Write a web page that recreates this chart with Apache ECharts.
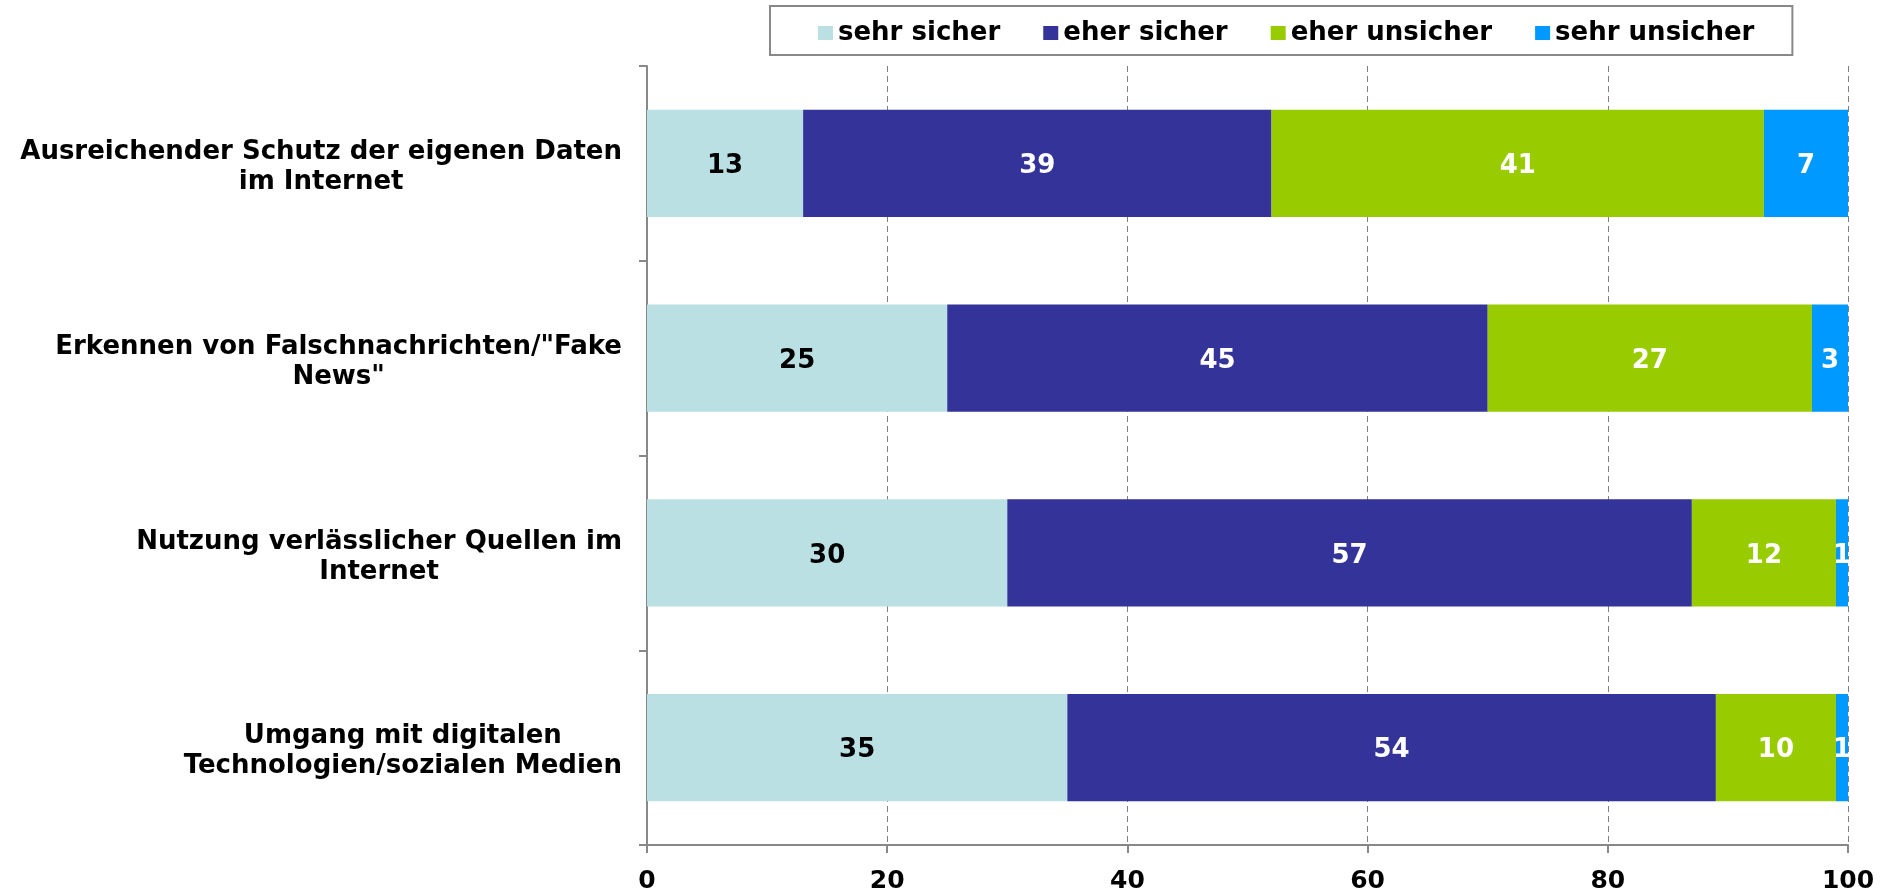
<!DOCTYPE html>
<html>
<head>
<meta charset="utf-8">
<script src="https://cdn.jsdelivr.net/npm/echarts@6/dist/echarts.min.js"></script>
<style>
  html, body { margin: 0; padding: 0; background: #fff; }
  #chart { width: 1887px; height: 894px; }
</style>
</head>
<body>
<div id="chart"></div>
<script>
// Kategorien (von oben nach unten)
const categories = [
  "Ausreichender Schutz der eigenen Daten\nim Internet",
  "Erkennen von Falschnachrichten/\"Fake\nNews\"",
  "Nutzung verlässlicher Quellen im\nInternet",
  "Umgang mit digitalen\nTechnologien/sozialen Medien"
];
const seriesNames = ["sehr sicher", "eher sicher", "eher unsicher", "sehr unsicher"];
const sehrSicher = [13, 25, 30, 35];
const eherSicher = [39, 45, 57, 54];
const eherUnsicher = [41, 27, 12, 10];
const sehrUnsicher = [7, 3, 1, 1];
const xTicks = [0, 20, 40, 60, 80, 100];

const colors = ["#BAE0E3", "#333399", "#99CC00", "#0099FF"];
const labelColors = ["#000", "#fff", "#fff", "#fff"];
const values = [sehrSicher, eherSicher, eherUnsicher, sehrUnsicher];

const font = "DejaVu Sans";
const chart = echarts.init(document.getElementById("chart"));

const option = {
  animation: false,
  color: colors,
  grid: { left: 647, right: 39, top: 66, bottom: 49 },
  legend: {
    data: seriesNames,
    left: 770,
    top: 6,
    padding: [14, 38, 9, 48],
    borderColor: "#888",
    borderWidth: 2,
    itemWidth: 15,
    itemHeight: 14,
    itemGap: 43,
    icon: "rect",
    textStyle: {
      fontFamily: font,
      fontWeight: "bold",
      fontSize: 26,
      color: "#000",
      padding: [7, 0, 0, 0]
    }
  },
  xAxis: {
    type: "value",
    min: xTicks[0],
    max: xTicks[xTicks.length - 1],
    interval: 20,
    axisLine: { show: true, lineStyle: { color: "#888", width: 2 } },
    axisTick: { show: true, length: 8, lineStyle: { color: "#888", width: 2 } },
    axisLabel: {
      margin: 24,
      fontFamily: font,
      fontWeight: "bold",
      fontSize: 25,
      color: "#000"
    },
    splitLine: {
      show: true,
      lineStyle: { color: "#808080", width: 1, type: [6, 4] }
    }
  },
  yAxis: {
    type: "category",
    data: categories,
    inverse: true,
    axisLine: { show: true, lineStyle: { color: "#888", width: 2 } },
    axisTick: { show: true, length: 8, lineStyle: { color: "#888", width: 2 } },
    axisLabel: {
      margin: 25,
      padding: [8, 0, 0, 0],
      color: "#000",
      fontFamily: font,
      fontWeight: "bold",
      fontSize: 26,
      lineHeight: 30,
      formatter: function (v) {
        return v.split("\n").map(function (l) { return "{c|" + l + "}"; }).join("\n");
      },
      rich: {
        c: {
          align: "center",
          fontFamily: font,
          fontWeight: "bold",
          fontSize: 26,
          lineHeight: 30,
          color: "#000"
        }
      }
    }
  },
  series: seriesNames.map(function (name, i) {
    return {
      name: name,
      type: "bar",
      stack: "total",
      barCategoryGap: "45%",
      data: values[i],
      label: {
        show: true,
        position: "inside",
        offset: [0, 3],
        color: labelColors[i],
        fontFamily: font,
        fontWeight: "bold",
        fontSize: 26
      }
    };
  })
};

chart.setOption(option);
</script>
</body>
</html>
